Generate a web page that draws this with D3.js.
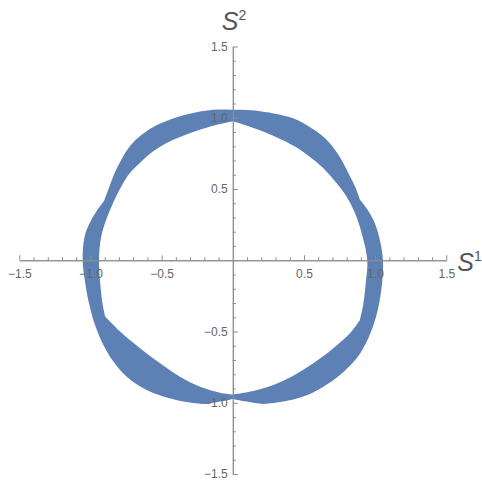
<!DOCTYPE html>
<html>
<head>
<meta charset="utf-8">
<script src="https://cdn.jsdelivr.net/npm/d3@7"></script>
<style>
  html, body { margin: 0; padding: 0; background: #fff; }
  svg { display: block; }
</style>
</head>
<body>
<svg id="chart" width="482" height="485"></svg>
<script>
// ---- data ----
const xDomain = [-1.5, 1.5];
const yDomain = [-1.5, 1.5];
const majorTicks = [-1.5, -1.0, -0.5, 0.5, 1.0, 1.5];
const minorTicks = [-1.4, -1.3, -1.2, -1.1, -0.9, -0.8, -0.7, -0.6, -0.4, -0.3, -0.2, -0.1,
  0.1, 0.2, 0.3, 0.4, 0.6, 0.7, 0.8, 0.9, 1.1, 1.2, 1.3, 1.4];
const xLabel = "S";
const xLabelSup = "1";
const yLabel = "S";
const yLabelSup = "2";

// outer boundary of the region, counter-clockwise
const outerX = [1.055, 1.028, 0.988, 0.941, 0.894, 0.864, 0.824, 0.777, 0.718, 0.648, 0.554, 0.437, 0.296, 0.13, 0.0,
  -0.139, -0.303, -0.444, -0.561, -0.655, -0.725, -0.784, -0.831, -0.871, -0.905, -0.96, -1.007, -1.042, -1.055,
  -1.038, -1.008, -0.968, -0.909, -0.839, -0.745, -0.628, -0.488, -0.348, -0.207, -0.09, 0.0,
  0.098, 0.214, 0.355, 0.495, 0.636, 0.753, 0.87, 0.952, 1.01, 1.045];
const outerY = [0.0, 0.164, 0.282, 0.364, 0.423, 0.505, 0.587, 0.681, 0.775, 0.857, 0.927, 0.991, 1.028, 1.052, 1.056,
  1.056, 1.028, 0.986, 0.934, 0.869, 0.798, 0.704, 0.61, 0.505, 0.415, 0.34, 0.258, 0.164, 0.0,
  -0.15, -0.313, -0.454, -0.594, -0.711, -0.817, -0.898, -0.957, -0.992, -1.008, -0.992, -0.973,
  -0.992, -1.008, -0.992, -0.957, -0.887, -0.805, -0.688, -0.547, -0.383, -0.196];
const outerCorners = [4, 24, 40];

// inner boundary of the region, counter-clockwise
const innerX = [0.945, 0.906, 0.859, 0.8, 0.73, 0.648, 0.554, 0.437, 0.296, 0.13, 0.0,
  -0.139, -0.303, -0.444, -0.561, -0.655, -0.725, -0.784, -0.843, -0.89, -0.925, -0.94,
  -0.928, -0.914, -0.897, -0.792, -0.652, -0.511, -0.371, -0.23, -0.09, 0.0,
  0.144, 0.284, 0.425, 0.565, 0.706, 0.823, 0.893, 0.916, 0.935];
const innerY = [0.0, 0.188, 0.329, 0.446, 0.54, 0.634, 0.716, 0.798, 0.869, 0.934, 0.976,
  0.944, 0.892, 0.833, 0.763, 0.681, 0.61, 0.516, 0.399, 0.282, 0.164, 0.0,
  -0.196, -0.313, -0.395, -0.5, -0.617, -0.723, -0.817, -0.887, -0.929, -0.942,
  -0.917, -0.875, -0.81, -0.723, -0.617, -0.512, -0.419, -0.313, -0.15];
const innerCorners = [10, 24, 31, 38];

// ---- drawing ----
const svg = d3.select("#chart");
const x = d3.scaleLinear().domain(xDomain).range([19.3, 446.3]);
const y = d3.scaleLinear().domain(yDomain).range([474, 46.5]);

// corner points are doubled so the smooth curve keeps a sharp corner there
function ring(xs, ys, corners) {
  const pts = [];
  xs.forEach((v, i) => {
    pts.push([v, ys[i]]);
    if (corners.includes(i)) pts.push([v, ys[i]]);
  });
  return pts;
}
const line = d3.line().x(d => x(d[0])).y(d => y(d[1])).curve(d3.curveCatmullRomClosed.alpha(0.5));

svg.append("path")
  .attr("d", line(ring(outerX, outerY, outerCorners)) + line(ring(innerX, innerY, innerCorners)))
  .attr("fill", "#5e81b5")
  .attr("fill-rule", "evenodd")
  .attr("stroke", "none");

const axisColor = "#8c8c8c";
const labelColor = "#666666";
const fontFam = "'Liberation Sans', Arial, sans-serif";
const fmt = v => (v < 0 ? "\u2212" : "") + Math.abs(v).toFixed(1);

// x axis (ticks point up, labels below)
const gx = svg.append("g").attr("transform", `translate(0,${y(0)})`);
gx.append("g").call(d3.axisBottom(x).tickValues(minorTicks).tickSizeInner(-3).tickSizeOuter(0).tickFormat(""));
gx.append("g").call(d3.axisBottom(x).tickValues(majorTicks).tickSizeInner(-5).tickSizeOuter(0).tickPadding(9).tickFormat(fmt));

// y axis (ticks point right, labels left)
const gy = svg.append("g").attr("transform", `translate(${x(0)},0)`);
gy.append("g").call(d3.axisLeft(y).tickValues(minorTicks).tickSizeInner(-3).tickSizeOuter(0).tickFormat(""));
gy.append("g").call(d3.axisLeft(y).tickValues(majorTicks).tickSizeInner(-5).tickSizeOuter(0).tickPadding(5).tickFormat(fmt));

svg.selectAll(".domain").attr("stroke", axisColor).attr("stroke-width", 1);
svg.selectAll(".tick line").attr("stroke", axisColor).attr("stroke-width", 1);
svg.selectAll(".tick text").attr("fill", labelColor).attr("font-family", fontFam).attr("font-size", 12);

// axis labels
const xl = svg.append("text").attr("x", x(1.5) + 11).attr("y", y(0) + 11)
  .attr("font-family", fontFam).attr("font-size", 25).attr("font-style", "italic").attr("fill", "#555");
xl.append("tspan").text(xLabel);
xl.append("tspan").attr("font-size", 14).attr("dy", -10).attr("font-style", "normal").text(xLabelSup);

const yl = svg.append("text").attr("x", x(0) - 11).attr("y", 30)
  .attr("font-family", fontFam).attr("font-size", 25).attr("font-style", "italic").attr("fill", "#555");
yl.append("tspan").text(yLabel);
yl.append("tspan").attr("font-size", 14).attr("dy", -10).attr("font-style", "normal").text(yLabelSup);
</script>
</body>
</html>
